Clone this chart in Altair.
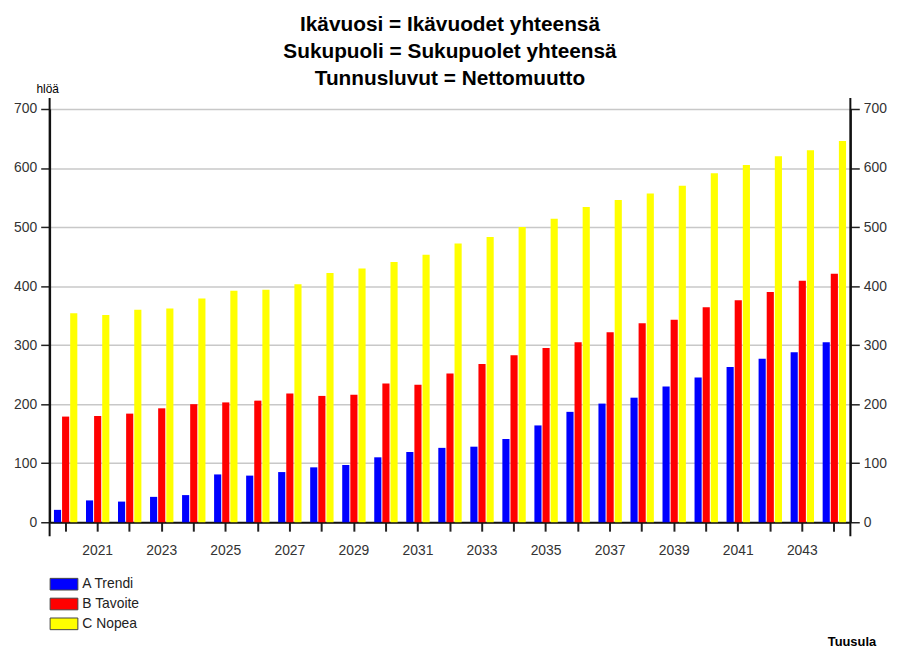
import altair as alt
import pandas as pd

years = [str(y) for y in range(2020, 2045)]
series_names = ["A Trendi", "B Tavoite", "C Nopea"]
trendi = [21, 37, 35, 43, 46, 81, 79, 85, 93, 97, 110, 119, 126, 128, 141, 164, 187, 201, 211, 230, 245, 263, 277, 288, 305]
tavoite = [179, 180, 184, 193, 200, 203, 206, 218, 214, 216, 235, 233, 252, 268, 283, 295, 305, 322, 337, 343, 364, 376, 390, 409, 421]
nopea = [354, 351, 360, 362, 379, 392, 394, 403, 422, 430, 441, 453, 472, 483, 500, 514, 534, 546, 557, 570, 591, 605, 620, 630, 646]
colors = ["#0000FF", "#FF0000", "#FFFF00"]
title_lines = ["Ikävuosi = Ikävuodet yhteensä", "Sukupuoli = Sukupuolet yhteensä", "Tunnusluvut = Nettomuutto"]
y_ticks = [0, 100, 200, 300, 400, 500, 600, 700]
unit_label = "hlöä"
source_label = "Tuusula"

rows = []
for i, yr in enumerate(years):
    for name, vals in zip(series_names, [trendi, tavoite, nopea]):
        rows.append({"vuosi": yr, "sarja": name, "arvo": vals[i]})
df = pd.DataFrame(rows)

W, H = 808, 417
FONT = "Liberation Sans"

yscale = alt.Scale(domain=[0, 700], nice=False, zero=True)
xscale = alt.Scale(paddingInner=0.27, paddingOuter=0.135)

x_axis = alt.Axis(title=None, labelAngle=0,
                  labelExpr="toNumber(datum.value) % 2 == 1 ? datum.label : ''",
                  tickSize=9, tickColor="#222", tickWidth=2,
                  domainColor="#111", domainWidth=2,
                  labelFontSize=14, labelPadding=13, labelColor="#333",
                  labelFont=FONT, grid=False)
x_enc = alt.X("vuosi:N", scale=xscale, sort=years, axis=x_axis)
xoff = alt.XOffset("sarja:N", sort=series_names, scale=alt.Scale(paddingInner=0.12))

bars = alt.Chart(df).mark_bar().encode(
    x=x_enc,
    xOffset=xoff,
    y=alt.Y("arvo:Q", scale=yscale,
            axis=alt.Axis(title=None, orient="left", values=y_ticks, grid=True,
                          gridColor="#c8c8c8", gridWidth=1.5,
                          domainColor="#111", domainWidth=2,
                          tickColor="#222", tickWidth=1.5, tickSize=9,
                          labelFontSize=14, labelPadding=4, labelColor="#333",
                          labelFont=FONT)),
    color=alt.Color("sarja:N", sort=series_names,
                    scale=alt.Scale(domain=series_names, range=colors),
                    legend=alt.Legend(title=None, orient="none", legendX=7, legendY=472,
                                      direction="vertical",
                                      symbolType="M-2,-0.84H2V0.84H-2Z",
                                      symbolSize=196, symbolStrokeColor="#444",
                                      symbolStrokeWidth=1, symbolOpacity=1,
                                      labelFontSize=14, labelFont=FONT,
                                      labelColor="#222", labelOffset=11,
                                      rowPadding=3)),
)

right_axis = alt.Chart(df).mark_bar(opacity=0).encode(
    x=x_enc,
    xOffset=xoff,
    y=alt.Y("arvo:Q", scale=yscale,
            axis=alt.Axis(title=None, orient="right", values=y_ticks, grid=False,
                          domainColor="#111", domainWidth=2,
                          tickColor="#222", tickWidth=1.5, tickSize=9,
                          labelFontSize=14, labelPadding=4, labelColor="#333",
                          labelFont=FONT)),
)

def one_text(txt, xpos, ypos, size, bold=True, align="center"):
    return alt.Chart(pd.DataFrame({"t": [txt]})).mark_text(
        font=FONT, fontSize=size, fontWeight="bold" if bold else "normal",
        align=align, baseline="middle", color="#000"
    ).encode(text="t:N", x=alt.value(xpos), y=alt.value(ypos))

titles = [one_text(t, W / 2, yy, 21) for t, yy in zip(title_lines, [-85, -57, -30])]
unit = one_text(unit_label, -2, -20, 12, bold=False)
source = one_text(source_label, 834, 538, 13, bold=True, align="right")

def vrule(xpos):
    return alt.Chart(pd.DataFrame({"a": [0]})).mark_rule(color="#111", strokeWidth=2).encode(
        x=alt.value(xpos), y=alt.value(-11), y2=alt.value(431))

chart = alt.layer(bars, right_axis, vrule(0), vrule(W), *titles, unit, source).resolve_axis(
    y="independent"
).properties(
    width=W, height=H,
    autosize=alt.AutoSizeParams(type="none"),
    padding={"left": 42, "top": 99, "right": 40, "bottom": 127},
).configure_view(stroke=None).configure(background="white")

chart.save("out.html", embed_options={"renderer": "svg", "actions": False})
